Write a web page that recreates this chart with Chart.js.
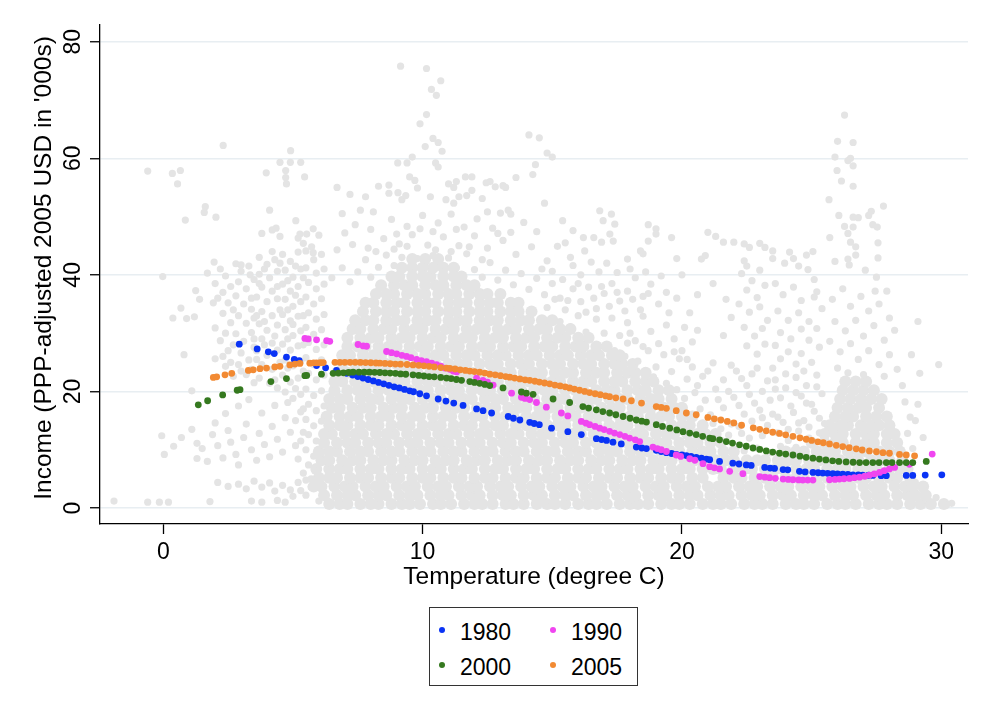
<!DOCTYPE html>
<html>
<head>
<meta charset="utf-8">
<title>Income vs temperature</title>
<script src="https://cdn.jsdelivr.net/npm/chart.js@4.4.1/dist/chart.umd.min.js"></script>
<style>
  html, body { margin: 0; padding: 0; background: #fff; }
  #wrap { position: relative; width: 993px; height: 721px; font-family: "Liberation Sans", Arial, Helvetica, sans-serif; }
  #legend { position: absolute; left: 429px; top: 607px; width: 207px; height: 77px; border: 1.5px solid #333; background: #fff; }
  #legend .dot { position: absolute; width: 6px; height: 6px; border-radius: 50%; }
  #legend .lab { position: absolute; font-size: 23px; line-height: 23px; color: #000; }
</style>
</head>
<body>
<div id="wrap">
  <canvas id="chart" width="993" height="721"></canvas>
  <div id="legend"></div>
</div>
<script>
// axis ticks
const xTicks = [0, 10, 20, 30];
const yTicks = [0, 20, 40, 60, 80];

// grey background cloud: dense part stored as rows (y level + x positions)
const cloudRowY = [0.7, 2.2, 3.7, 5.2, 6.7, 8.2, 9.7, 11.2, 12.7, 14.2, 15.7, 17.2, 18.7, 20.2, 21.7,
  23.2, 24.7, 26.2, 27.7, 29.2, 30.7, 32.2, 33.7, 35.2, 36.7, 38.2, 39.7, 41.2, 42.7];
const cloudRowX = [
  [6.4,6.8,7.1,7.6,8.0,8.3,8.8,9.2,9.5,9.9,10.4,10.7,11.1,11.6,12.0,12.3,12.7,13.2,13.5,13.9,14.4,14.8,15.1,15.5,16.0,16.4,16.7,17.1,17.6,18.0,18.3,18.7,19.2,19.6,19.9,20.3,20.8,21.2,21.5,21.9,22.4,22.8,23.1,23.5,24.0,24.4,24.7,25.1,25.6,26.0,26.3,26.7,27.2,27.6,27.9,28.3,28.8,29.2,29.6,30.1],
  [6.2,6.7,7.1,7.4,7.9,8.3,8.6,9.1,9.5,9.8,10.3,10.7,11.0,11.5,11.9,12.2,12.7,13.1,13.4,13.9,14.3,14.6,15.1,15.5,15.8,16.3,16.7,17.0,17.5,17.9,18.2,18.7,19.1,19.4,19.9,20.3,20.6,21.1,21.5,21.8,22.3,22.7,23.0,23.5,23.9,24.2,24.7,25.1,25.4,25.9,26.3,26.6,27.1,27.5,27.8,28.3,28.7,29.0,29.4],
  [5.8,6.1,6.6,7.0,7.3,7.8,8.2,8.5,9.0,9.4,9.7,10.2,10.6,10.9,11.4,11.8,12.1,12.6,13.0,13.3,13.8,14.2,14.5,15.0,15.4,15.7,16.2,16.6,16.9,17.4,17.8,18.1,18.6,19.0,19.3,19.8,20.2,20.5,21.0,21.4,21.7,22.2,22.6,22.9,23.4,23.8,24.1,24.6,25.0,25.3,25.8,26.2,26.5,27.0,27.4,27.7,28.2,28.6,28.9,29.3],
  [6.0,6.4,6.7,7.2,7.6,7.9,8.4,8.8,9.1,9.6,10.0,10.3,10.8,11.2,11.5,12.0,12.4,12.7,13.2,13.6,13.9,14.4,14.8,15.1,15.6,16.0,16.3,16.8,17.2,17.5,18.0,18.4,18.7,19.2,19.6,19.9,20.4,20.8,21.6,22.0,22.3,22.8,23.2,23.5,24.0,24.4,24.7,25.2,25.6,25.9,26.4,26.8,27.1,27.6,28.0,28.3,28.8],
  [5.9,6.4,6.8,7.1,7.6,8.0,8.3,8.8,9.2,9.5,10.0,10.4,10.7,11.2,11.6,11.9,12.4,12.8,13.1,13.6,14.0,14.3,14.8,15.2,15.5,16.0,16.4,16.7,17.2,17.6,17.9,18.4,18.8,19.1,19.6,20.0,20.3,20.8,21.2,21.5,22.0,22.4,22.7,23.2,23.6,23.9,24.4,24.8,25.1,25.6,26.0,26.3,26.8,27.2,27.5,28.0,28.4,28.7],
  [6.1,6.4,6.9,7.3,7.6,8.1,8.5,8.8,9.3,9.7,10.0,10.5,10.9,11.2,11.7,12.1,12.4,12.9,13.3,13.6,14.1,14.5,14.8,15.3,15.7,16.0,16.5,16.9,17.2,17.7,18.1,18.4,18.9,19.3,19.6,20.1,20.5,20.8,21.3,21.7,22.0,22.5,22.9,23.2,23.7,24.1,24.4,24.9,25.3,25.6,26.1,26.5,26.8,27.3,27.7,28.0,28.5],
  [6.0,6.4,6.7,7.2,7.6,7.9,8.4,8.8,9.1,9.6,10.0,10.3,10.8,11.2,11.5,12.0,12.4,12.7,13.2,13.6,13.9,14.4,14.8,15.1,15.6,16.0,16.3,16.8,17.2,17.5,18.0,18.4,18.7,19.2,19.6,19.9,20.4,20.8,21.1,21.6,22.0,24.0,24.4,24.7,25.2,25.6,25.9,26.4,26.8,27.1,27.6,28.0,28.4],
  [6.2,6.7,7.1,7.4,7.9,8.3,8.6,9.1,9.5,9.8,10.3,10.7,11.0,11.5,11.9,12.2,12.7,13.1,13.4,13.9,14.3,14.6,15.1,15.5,15.8,16.3,16.7,17.0,17.5,17.9,18.2,18.7,19.1,19.4,19.9,20.3,20.6,21.1,21.5,25.0,25.5,25.9,26.2,26.7,27.1,27.4,27.9,28.3],
  [6.2,6.5,7.0,7.4,7.7,8.2,8.6,8.9,9.4,9.8,10.1,10.6,11.0,11.3,11.8,12.2,12.5,13.0,13.4,13.7,14.2,14.6,14.9,15.4,15.8,16.1,16.6,17.0,17.3,17.8,18.2,18.5,19.0,19.4,19.7,20.2,20.6,20.9,21.3,25.5,25.9,26.2,26.7,27.1,27.4,27.9,28.2],
  [6.4,6.8,7.1,7.6,8.0,8.3,8.8,9.2,9.5,10.0,10.4,10.7,11.2,11.6,11.9,12.4,12.8,13.1,13.6,14.0,14.3,14.8,15.2,15.5,16.0,16.4,16.7,17.2,17.6,17.9,18.4,18.8,19.1,19.6,20.0,20.3,20.8,25.7,26.1,26.4,26.9,27.3,27.6,28.0],
  [6.3,6.8,7.2,7.5,8.0,8.4,8.7,9.2,9.6,9.9,10.4,10.8,11.1,11.6,12.0,12.3,12.8,13.2,13.5,14.0,14.4,14.7,15.2,15.6,15.9,16.4,16.8,17.1,17.6,18.0,18.3,18.8,19.2,19.5,20.0,20.4,25.9,26.3,26.6,27.1,27.5,27.9],
  [6.5,6.8,7.3,7.7,8.0,8.5,8.9,9.2,9.7,10.1,10.4,10.9,11.3,11.6,12.1,12.5,12.8,13.3,13.7,14.0,14.5,14.9,15.2,15.7,16.1,16.4,16.9,17.3,17.6,18.1,18.5,18.8,19.3,19.7,20.0,26.0,26.4,26.8,27.1,27.6],
  [6.4,6.8,7.1,7.6,8.0,8.3,8.8,9.2,9.5,10.0,10.4,10.7,11.2,11.6,11.9,12.4,12.8,13.1,13.6,14.0,14.3,14.8,15.2,15.5,16.0,16.4,16.7,17.2,17.6,17.9,18.4,18.8,19.1,19.6,26.1,26.5,26.9,27.3,27.7],
  [6.6,7.1,7.5,7.8,8.3,8.7,9.0,9.5,9.9,10.2,10.7,11.1,11.4,11.9,12.3,12.6,13.1,13.5,13.8,14.3,14.7,15.0,15.5,15.9,16.2,16.7,17.1,17.4,17.9,18.3,18.6,19.1,19.5,26.2,26.6,27.0,27.4],
  [6.6,6.9,7.4,7.8,8.1,8.6,9.0,9.3,9.8,10.2,10.5,11.0,11.4,11.7,12.2,12.6,12.9,13.4,13.8,14.1,14.6,15.0,15.3,15.8,16.2,16.5,17.0,17.4,17.7,18.2,18.6,18.9,26.3,26.7,27.1],
  [6.7,7.1,7.4,7.9,8.3,8.6,9.1,9.5,9.8,10.3,10.7,11.0,11.5,11.9,12.2,12.7,13.1,13.4,13.9,14.3,14.6,15.1,15.5,15.8,16.3,16.7,17.0,17.5,17.9,18.2,18.6],
  [6.9,7.4,7.8,8.1,8.6,9.0,9.3,9.8,10.2,10.5,11.0,11.4,11.7,12.2,12.6,12.9,13.4,13.8,14.1,14.6,15.0,15.3,15.8,16.2,16.5,17.0,17.4,17.7,18.1],
  [6.9,7.2,7.7,8.1,8.4,8.9,9.3,9.6,10.1,10.5,10.8,11.3,11.7,12.0,12.5,12.9,13.2,13.7,14.1,14.4,14.9,15.3,15.6,16.1,16.5,16.8,17.3,17.6],
  [7.1,7.5,7.8,8.3,8.7,9.0,9.5,9.9,10.2,10.7,11.1,11.4,11.9,12.3,12.6,13.1,13.5,13.8,14.3,14.7,15.0,15.5,15.9,16.2,16.7,17.1],
  [7.1,7.6,8.0,8.3,8.8,9.2,9.5,10.0,10.4,10.7,11.2,11.6,11.9,12.4,12.8,13.1,13.6,14.0,14.3,14.8,15.2,15.5,16.0,16.4],
  [7.3,7.6,8.1,8.5,8.8,9.3,9.7,10.0,10.5,10.9,11.2,11.7,12.1,12.4,12.9,13.3,13.6,14.1,14.5,14.8,15.3,15.7],
  [7.4,7.8,8.1,8.6,9.0,9.3,9.8,10.2,10.5,11.0,11.4,11.7,12.2,12.6,12.9,13.4,13.8,14.1,14.6,15.0],
  [7.7,8.2,8.6,8.9,9.4,9.8,10.1,10.6,11.0,11.3,11.8,12.2,12.5,13.0,13.4,13.7,14.2],
  [7.8,8.1,8.6,9.0,9.3,9.8,10.2,10.5,11.0,11.4,11.7,12.2,12.6,12.9,13.4,13.7],
  [8.2,8.6,8.9,9.4,9.8,10.1,10.6,11.0,11.3,11.8,12.2,12.5,13.0],
  [8.4,8.9,9.3,9.6,10.1,10.5,10.8,11.3,11.7,12.0],
  [8.8,9.1,9.6,10.0,10.3,10.8,11.2,11.5],
  [9.2,9.6,10.0,10.4,10.8,11.2],
  [9.6,10.1,10.6]
];

// grey background cloud: scattered points around the dense part [temperature, income]
const cloudScatter = [
  [-1.9,1.2],[-0.6,1.0],[-0.15,1.0],[0.2,1.0],[1.8,1.1],[-0.6,57.8],[0.35,57.4],[0.66,57.9],[0.55,55.6],[-0.02,39.7],
  [0.37,32.6],[0.68,34.3],[0.9,32.5],[1.2,32.8],[1.25,37.3],[1.4,35.8],[1.7,40.3],[1.93,35.2],[1.96,42.2],[0.8,26.3],
  [1.1,20.1],[-0.06,12.4],[0.04,9.2],[0.7,12.1],[1.3,11.1],[1.3,8.5],[1.62,51.7],[1.58,50.7],[2.03,49.9],[0.85,49.4],
  [2.31,62.2],[4.91,61.3],[4.5,59.3],[4.9,59.3],[5.3,59.3],[3.97,57.5],[4.72,57.9],[4.72,56.7],[4.75,55.6],[5.45,56.8],
  [4.1,51.1],[5.11,49.3],[3.8,47.1],[4.2,47.7],[4.35,48.0],[4.5,46.6],[5.27,47.0],[5.53,47.0],[5.78,47.9],[5.2,46.3],
  [5.4,45.4],[5.72,44.8],[5.78,43.8],[6.0,46.8],[3.0,41.7],[3.35,40.0],
  [2.0,38.5],[2.2,41.0],[2.4,39.8],[2.1,36.0],[2.5,35.2],[2.3,33.4],[2.0,30.9],[2.6,31.8],[2.2,28.7],[2.5,27.0],[2.0,25.6],[2.4,24.3],[2.7,22.6],
  [2.8,41.9],[3.0,40.6],[3.3,41.5],[2.9,38.8],[3.2,37.6],[3.5,39.2],[2.8,36.4],[3.1,35.0],[3.4,34.1],[2.9,33.0],[3.2,31.7],[3.5,32.6],
  [2.8,29.9],[3.1,28.6],[3.4,30.1],[3.0,26.6],[3.3,25.4],[3.5,27.6],[2.9,24.6],[3.2,22.9],[3.5,21.5],
  [3.7,43.0],[4.0,41.8],[4.3,42.6],[3.7,40.1],[4.1,39.5],[4.4,40.6],[3.8,37.9],[4.2,37.2],[3.6,36.2],[4.0,35.4],[4.4,35.9],[3.8,33.7],
  [4.2,33.0],[3.7,31.6],[4.0,30.5],[4.4,31.4],[3.8,29.0],[4.2,28.3],[3.6,27.0],[4.0,26.2],[4.4,27.1],[3.8,24.6],[4.2,23.8],[3.7,22.3],[4.1,21.4],[4.4,20.6],
  [4.6,43.5],[4.9,42.3],[5.2,43.9],[4.7,40.8],[5.0,39.6],[5.3,41.0],[4.6,38.4],[4.9,37.2],[5.2,38.0],[4.7,35.8],[5.0,34.6],[5.3,35.4],
  [4.6,33.2],[4.9,32.1],[5.2,32.9],[4.7,30.6],[5.0,29.6],[5.3,30.4],[4.6,28.1],[4.9,27.1],[5.2,27.8],[4.7,25.4],[5.0,24.4],[5.3,25.2],
  [4.6,22.8],[4.9,21.6],[5.2,22.3],[4.7,19.9],[5.0,18.8],[5.3,19.5],
  [2.3,37.0],[2.6,38.0],[2.7,34.0],[2.4,30.0],[2.7,28.0],[2.3,26.0],[2.6,25.0],[3.0,23.5],[3.4,23.8],[3.6,25.5],[3.9,28.0],[3.5,29.0],
  [3.6,33.0],[3.9,32.0],[3.4,36.0],[3.7,38.5],[3.9,41.0],[4.2,44.0],[4.5,42.0],[4.4,38.0],[4.5,34.0],[4.3,29.5],[4.5,25.0],[4.3,22.0],
  [4.8,24.0],[4.8,29.0],[5.0,31.5],[4.8,34.0],[5.1,36.5],[4.8,39.0],[5.1,41.5],[5.4,39.5],[5.4,33.0],[5.4,28.0],[5.4,23.5],[5.1,20.5],
  [5.4,17.0],[5.1,15.0],[5.4,13.0],[5.3,11.5],[5.4,6.0],[5.7,5.0],[5.3,3.0],
  [5.5,44.1],[5.8,42.6],[6.1,43.5],[5.5,41.2],[5.9,40.3],[6.2,41.0],[5.6,38.7],[5.9,37.6],[6.2,38.4],[5.5,36.2],[5.8,35.0],[6.1,35.9],
  [5.6,33.5],[5.9,32.4],[6.2,33.2],[5.5,31.0],[5.8,29.8],[6.1,30.6],[5.6,28.4],[5.9,27.2],[6.2,28.0],[5.5,25.8],[5.8,24.6],[6.1,25.4],
  [5.6,23.1],[5.9,22.0],[6.2,22.8],[5.5,20.4],[5.8,19.3],[6.1,20.1],[5.6,17.8],[5.9,16.7],[6.2,17.5],[5.5,15.2],[5.8,14.1],[6.1,14.9],
  [5.6,12.6],[5.9,11.5],[6.2,12.2],[5.5,10.0],[5.8,8.9],[6.1,9.6],[5.6,7.4],[5.9,6.3],[5.5,4.8],[5.7,3.6],[5.5,2.2],[6.0,1.2],
  [1.5,10.2],[1.7,8.0],[1.9,12.6],[2.1,10.7],[2.3,8.6],[2.5,13.3],[2.6,11.3],[2.8,9.2],[2.9,7.4],[3.1,12.1],[3.2,14.4],[3.4,10.0],
  [3.6,8.2],[3.7,12.8],[3.9,10.9],[4.1,8.8],[4.2,14.0],[4.4,11.8],[4.6,9.6],[4.7,15.5],[4.9,13.0],[5.1,10.7],[5.2,8.4],[5.3,16.5],
  [2.4,16.2],[2.9,17.5],[3.3,18.6],[3.8,16.3],[4.3,17.6],[4.8,18.1],[2.0,14.6],[1.1,13.5],[0.4,10.6],
  [2.1,4.4],[2.5,3.7],[2.9,4.1],[3.2,3.3],[3.5,4.6],[3.8,3.6],[4.1,4.3],[4.3,2.9],[4.6,3.9],[4.9,3.1],[5.2,4.4],[3.4,1.2],[3.8,1.0],
  [4.4,1.3],[4.7,1.0],[5.0,2.0],
  [6.5,39.5],[6.9,41.2],[7.2,38.8],[7.5,40.5],[7.8,42.6],[8.0,39.6],[8.3,41.3],[8.6,43.4],[8.9,41.6],[9.2,43.0],[9.5,41.2],[9.8,42.8],
  [10.1,41.4],[10.4,43.3],[10.7,41.7],[11.0,42.9],[11.3,41.2],[11.7,43.6],[12.0,40.9],[12.3,39.6],[12.6,42.1],[12.9,39.1],[13.2,40.8],
  [13.5,38.3],[13.8,40.2],[14.1,37.5],[14.4,39.4],[14.7,36.6],[15.0,38.5],[15.3,36.0],[6.7,44.3],[7.3,45.2],[7.9,44.6],[8.5,46.2],
  [9.1,45.3],[9.6,46.9],[10.2,45.1],[10.8,46.5],[11.4,45.0],[12.0,46.7],[12.5,44.6],[13.1,45.9],[13.6,43.5],[14.2,44.8],[14.8,42.4],[15.2,44.9],
  [6.7,55.0],[7.2,53.8],[7.8,53.4],[7.6,51.1],[8.1,50.8],[6.9,50.5],[8.3,55.2],[8.7,55.4],[8.7,54.0],[9.05,54.1],[9.2,52.9],[9.35,53.6],
  [9.5,56.8],[9.7,56.2],[9.8,54.9],[10.3,53.4],[10.9,52.9],[11.2,52.3],[11.4,53.4],[11.7,53.6],[11.9,54.5],[12.3,53.1],[12.8,55.1],
  [11.0,55.6],[11.2,55.0],[11.3,56.0],[11.65,56.8],[11.9,56.8],[12.45,55.8],[12.6,56.0],[13.1,55.3],[13.2,55.0],[13.3,51.1],[13.4,50.4],
  [13.6,56.7],[14.7,52.3],[7.4,48.6],[8.0,47.8],[8.8,49.5],[9.4,48.3],[10.0,50.2],[10.6,48.9],[11.1,50.4],[11.6,48.2],[12.1,49.6],
  [12.7,48.0],[13.0,50.6],[13.9,49.0],[14.4,47.4],[7.0,47.2],[9.9,47.9],[12.9,47.1],
  [8.2,44.0],[8.9,44.4],[9.4,44.9],[10.5,44.3],[11.1,44.0],[11.8,44.8],[12.3,42.6],[9.0,47.0],[10.4,47.4],[11.3,47.8],[13.4,47.3],[12.5,50.8],
  [9.15,75.8],[10.15,75.4],[10.7,73.3],[10.34,71.8],[10.53,70.8],[10.15,67.5],[9.9,65.9],[10.4,63.4],[10.6,62.7],[10.75,61.2],
  [10.1,62.0],[9.6,60.2],[9.04,59.2],[9.4,59.2],[10.5,59.2],[10.6,58.5],[14.1,64.0],[14.5,63.5],[14.8,60.9],[15.0,60.2],[14.35,58.9],[14.25,57.2],
  [16.83,51.0],[16.96,49.3],[17.28,50.4],[17.41,48.7],[17.22,47.0],[17.35,45.8],[15.4,49.3],[15.8,47.6],[16.2,46.4],[16.25,44.1],
  [16.6,46.4],[16.9,45.6],[15.5,45.5],[15.7,43.0],[18.7,48.6],[19.0,47.9],[19.0,47.0],[18.7,45.8],[18.5,43.6],[19.6,46.4],[17.9,42.7],[18.4,44.1],
  [14.6,41.0],[15.0,40.6],[15.4,39.2],[15.8,41.6],[16.1,40.0],[16.5,42.2],[16.8,40.5],[17.1,42.0],[17.5,40.4],[14.8,34.4],[15.1,35.8],
  [15.5,34.0],[15.8,37.6],[16.1,35.4],[16.4,37.9],[16.7,34.2],[17.0,36.8],[17.3,38.5],[17.6,35.5],[17.9,37.2],[18.2,39.5],[18.5,36.3],
  [18.8,38.4],[19.1,35.0],[19.4,37.0],[15.3,32.0],[15.7,31.1],[16.0,33.0],[16.3,30.2],[16.7,32.4],[17.0,30.0],[17.3,32.6],[17.6,29.6],
  [17.9,31.8],[18.2,28.7],[18.5,32.9],[18.8,30.3],[19.1,28.2],[19.4,31.4],[19.7,29.0],[17.4,27.0],[17.8,26.0],[18.3,25.2],[18.7,27.0],
  [19.0,24.2],[19.3,26.3],[19.6,23.4],[19.9,25.6],[18.9,22.5],[19.4,21.4],[19.8,20.3],[20.2,22.1],
  [15.6,35.6],[16.0,38.5],[16.3,33.6],[16.6,36.0],[16.9,38.0],[17.2,34.6],[17.5,37.0],[17.8,33.8],[18.1,35.8],[18.4,34.0],[18.7,36.8],
  [18.0,41.0],[18.6,40.5],[19.2,39.8],[19.5,33.5],[19.8,36.0],[20.1,31.0],[20.4,28.5],[20.0,27.0],[20.6,30.5],[19.7,26.8],[18.0,30.0],
  [18.5,27.7],[17.9,28.3],
  [21.0,47.3],[21.3,46.6],[21.6,45.6],[22.0,45.6],[22.4,45.3],[22.6,44.7],[23.0,45.4],[23.2,44.7],[23.5,44.1],[20.75,42.7],[20.9,43.3],
  [22.4,42.4],[22.5,41.5],[22.3,40.2],[22.7,39.0],[23.0,40.8],[22.5,37.4],[22.9,36.1],[23.2,38.2],[22.2,35.0],[22.6,33.6],[23.0,34.5],
  [23.3,32.2],[22.4,31.0],[22.8,29.5],[23.1,30.8],[22.5,27.8],[22.9,26.4],[23.2,28.1],[21.7,35.8],[21.9,32.7],[21.6,29.6],[21.2,38.5],
  [20.6,36.6],[20.3,33.5],[20.0,40.0],[19.8,42.8],
  [20.1,18.8],[20.5,19.8],[20.9,18.5],[21.3,20.4],[21.6,17.2],[22.0,19.0],[22.4,16.1],[22.8,18.0],[23.1,15.5],[20.4,24.2],[20.8,22.6],
  [21.2,24.9],[21.6,22.0],[22.1,23.5],[22.5,21.0],[22.9,24.0],[23.3,21.8],[21.9,14.4],[22.3,12.8],[22.7,14.9],[23.1,12.4],[21.5,13.6],
  [20.9,12.2],[22.4,9.8],[22.9,10.3],[23.4,9.5],[23.8,10.6],
  [20.3,15.5],[20.7,17.0],[21.1,16.0],[21.4,18.6],[21.8,20.0],[22.2,17.6],[22.6,19.5],[23.0,16.8],[23.4,18.5],[23.6,20.4],[24.0,23.0],
  [24.4,19.8],[24.8,18.0],[25.2,20.8],[23.3,14.2],[23.7,15.6],[24.1,13.5],[24.5,14.6],[24.9,13.9],[25.3,15.4],[22.2,14.0],[22.6,12.0],
  [21.2,14.5],[21.8,12.5],[20.6,21.0],[21.0,23.5],[21.9,24.5],[22.3,22.2],[22.7,23.0],[23.1,20.0],[23.5,24.0],[20.2,25.5],[25.0,25.0],[24.7,23.5],
  [24.8,43.4],[25.05,44.0],[24.15,43.9],[24.3,42.8],[23.5,42.8],[23.96,42.0],[24.5,41.5],[24.86,40.9],[25.1,39.2],[25.2,37.1],[25.1,36.2],
  [25.4,34.2],[25.2,30.8],[24.9,28.8],[24.6,26.5],[24.1,26.8],[23.8,25.6],[24.4,24.7],[23.6,38.5],[23.9,36.6],[24.3,37.9],[24.6,35.6],
  [23.7,33.8],[24.1,32.2],[24.5,33.5],[24.9,32.0],[23.8,30.1],[24.2,29.0],[24.6,30.7],[25.3,27.6],[23.6,27.9],
  [23.6,22.0],[24.0,20.6],[24.4,22.4],[24.8,21.0],[25.2,22.8],[23.8,18.9],[24.2,17.5],[24.6,19.2],[25.0,17.8],[25.4,19.6],[23.5,16.1],
  [23.9,14.7],[24.3,16.4],[24.7,15.0],[25.1,16.6],[25.5,14.5],[23.7,12.9],[24.1,11.6],[24.5,13.2],[24.9,12.0],[25.3,12.9],[24.4,10.4],
  [26.27,67.4],[26.0,62.9],[26.6,62.7],[25.9,60.2],[26.5,60.0],[26.4,59.6],[26.6,58.7],[25.98,57.9],[26.15,56.1],[26.6,55.2],[25.67,52.9],
  [27.77,51.8],[27.3,50.9],[27.2,50.2],[26.05,50.2],[26.6,49.9],[26.8,49.8],[26.27,48.3],[26.6,48.2],[26.4,47.1],[27.36,48.6],[27.53,48.2],
  [25.7,46.4],[26.5,45.6],[26.7,44.8],[27.56,45.5],[25.9,42.3],[26.4,42.7],[26.45,41.7],[26.7,43.4],[27.07,40.8],[27.56,42.9],[27.5,39.6],
  [27.9,37.2],[27.45,37.2],
  [25.8,35.8],[26.2,37.6],[26.5,34.6],[26.9,36.3],[27.2,33.8],[27.6,35.0],[28.0,32.6],[25.9,32.0],[26.3,30.4],[26.7,32.2],[27.0,29.5],
  [27.4,31.3],[27.8,28.8],[28.2,30.5],[25.7,28.6],[26.1,26.8],[26.5,28.2],[26.8,25.5],[27.2,27.0],[27.6,24.6],[28.0,26.3],[28.3,23.8],
  [26.0,24.0],[26.4,23.2],[27.0,22.9],[27.8,22.6],[28.5,21.0],[28.6,18.2],[28.8,15.6],[28.7,12.8],[28.9,10.2],
  [29.1,32.0],[29.9,24.6],[29.17,23.1],[28.85,26.3],[29.1,17.8],[29.0,15.0],[29.3,12.1],[29.0,4.4],[29.3,3.1],[29.8,1.8],[30.4,0.8],[30.2,0.5]
];

// fitted values per year [temperature, income]
const fit1980 = [
  [2.93,28.1],[3.62,27.3],[4.05,26.8],[4.28,26.5],[4.75,25.9],[5.05,25.5],[5.24,25.3],[5.91,24.45],[6.26,24.05],[6.68,23.6],
  [7.07,23.1],[7.3,22.8],[7.5,22.55],[7.7,22.3],[7.9,22.05],[8.1,21.8],[8.3,21.55],[8.5,21.3],[8.7,21.05],[8.9,20.8],[9.1,20.6],
  [9.3,20.35],[9.5,20.1],[9.65,19.95],[9.89,19.6],[10.15,19.25],[10.6,18.7],[10.9,18.35],[11.2,18.0],[11.56,17.6],[12.08,17.0],
  [12.33,16.7],[12.66,16.3],[13.3,15.7],[13.5,15.4],[13.75,15.1],[14.13,14.7],[14.3,14.5],[14.5,14.3],[14.97,13.7],[15.6,13.1],
  [16.12,12.6],[16.7,11.9],[16.9,11.75],[17.09,11.6],[17.34,11.3],[17.66,11.0],[18.24,10.45],[18.45,10.3],[18.63,10.2],[19.01,9.9],
  [19.2,9.7],[19.4,9.5],[19.6,9.35],[19.78,9.2],[20.0,9.1],[20.17,9.0],[20.35,8.85],[20.55,8.7],[20.75,8.55],[20.94,8.4],[21.07,8.3],
  [21.45,8.0],[21.96,7.7],[22.2,7.55],[22.48,7.4],[22.67,7.3],[23.19,6.96],[23.4,6.85],[23.57,6.8],[23.9,6.6],[24.08,6.55],[24.53,6.3],
  [24.75,6.2],[25.05,6.1],[25.25,6.05],[25.43,6.0],[25.62,5.95],[25.82,5.9],[26.0,5.85],[26.2,5.8],[26.4,5.75],[26.59,5.7],[26.8,5.68],
  [26.97,5.65],[27.2,5.62],[27.36,5.6],[27.68,5.55],[27.88,5.55],[28.65,5.6],[28.9,5.6],[29.38,5.65],[30.02,5.7]
];
const fit1990 = [
  [5.46,29.1],[5.59,29.0],[5.91,28.85],[6.3,28.7],[6.42,28.6],[7.51,28.05],[7.71,27.8],[7.84,27.75],[8.61,26.85],[8.8,26.65],[9.0,26.45],
  [9.2,26.2],[9.38,26.0],[9.55,25.8],[9.77,25.5],[9.95,25.3],[10.15,25.1],[10.35,24.85],[10.54,24.6],[10.7,24.35],[10.86,24.0],[11.05,23.8],
  [11.18,23.5],[11.31,23.35],[12.08,22.3],[12.33,21.9],[12.5,21.6],[12.72,21.1],[13.43,19.7],[13.81,19.0],[13.95,18.8],[14.13,18.6],
  [14.39,18.1],[14.77,17.3],[15.35,16.3],[15.6,15.8],[16.12,14.85],[16.3,14.55],[16.44,14.3],[16.65,14.0],[16.83,13.7],[17.0,13.45],
  [17.21,13.15],[17.4,12.85],[17.6,12.6],[17.8,12.3],[17.98,12.0],[18.2,11.7],[18.37,11.4],[18.88,10.45],[19.05,10.2],[19.2,10.0],
  [19.4,9.7],[19.78,9.1],[19.95,8.85],[20.3,8.45],[20.5,8.2],[20.81,7.6],[21.07,7.1],[21.25,6.9],[21.45,6.7],[21.84,6.3],[22.35,5.9],
  [23.0,5.4],[23.2,5.3],[23.38,5.2],[23.6,5.1],[23.9,4.97],[24.1,4.9],[24.28,4.85],[24.5,4.82],[24.66,4.8],[24.85,4.8],[25.05,4.8],
  [25.69,4.85],[25.9,4.9],[26.07,4.97],[26.25,5.02],[26.46,5.07],[26.65,5.2],[26.85,5.3],[27.05,5.45],[27.23,5.65],[27.42,5.85],
  [27.62,6.1],[27.8,6.4],[28.0,6.7],[28.2,6.96],[28.77,7.5],[29.65,9.25]
];
const fit2000 = [
  [1.35,17.7],[1.71,18.4],[2.29,19.4],[2.85,20.2],[2.96,20.3],[4.15,21.7],[4.75,22.2],[5.46,22.7],[5.53,22.75],[6.1,22.97],[6.55,23.1],
  [6.75,23.15],[6.95,23.2],[7.15,23.25],[7.32,23.3],[7.55,23.3],[7.75,23.3],[7.95,23.3],[8.15,23.28],[8.35,23.25],[8.55,23.2],[8.75,23.15],
  [8.95,23.1],[9.15,23.0],[9.35,22.95],[9.63,22.85],[9.85,22.75],[10.05,22.65],[10.25,22.55],[10.45,22.5],[10.7,22.4],[10.92,22.3],
  [11.1,22.2],[11.3,22.05],[11.5,21.9],[11.82,21.7],[12.0,21.55],[12.2,21.4],[12.4,21.2],[12.59,21.0],[13.1,20.6],[13.81,19.9],[14.0,19.7],
  [14.26,19.5],[15.03,18.7],[15.67,18.1],[16.18,17.4],[16.4,17.15],[16.7,16.85],[16.95,16.55],[17.21,16.3],[17.45,16.0],[17.73,15.7],
  [18.0,15.4],[18.24,15.1],[18.45,14.9],[18.63,14.75],[19.01,14.3],[19.25,14.0],[19.53,13.7],[19.8,13.4],[20.04,13.1],[20.3,12.85],
  [20.55,12.6],[20.8,12.3],[21.07,12.0],[21.19,11.9],[21.45,11.7],[21.71,11.4],[21.95,11.15],[22.22,10.85],[22.48,10.6],[22.74,10.3],
  [23.0,10.05],[23.25,9.8],[23.5,9.6],[23.76,9.4],[24.0,9.25],[24.28,9.1],[24.55,8.9],[24.79,8.7],[25.05,8.55],[25.3,8.4],[25.55,8.25],
  [25.81,8.1],[26.05,8.0],[26.33,7.9],[26.6,7.85],[26.85,7.8],[27.1,7.8],[27.36,7.8],[27.6,7.8],[27.88,7.8],[28.1,7.8],[28.39,7.8],
  [28.65,7.8],[28.9,7.8],[29.42,8.0]
];
const fit2005 = [
  [1.93,22.4],[2.06,22.5],[2.38,22.85],[2.64,23.1],[3.28,23.6],[3.47,23.7],[3.73,23.9],[3.98,24.0],[4.3,24.2],[4.5,24.3],[4.88,24.55],
  [5.08,24.7],[5.27,24.8],[5.65,24.85],[5.8,24.9],[5.91,24.9],[6.05,24.92],[6.17,24.95],[6.62,25.0],[6.81,25.0],[7.0,25.0],[7.2,25.0],
  [7.4,25.0],[7.6,24.98],[7.8,24.95],[8.0,24.92],[8.2,24.88],[8.35,24.85],[8.55,24.8],[8.75,24.75],[8.95,24.7],[9.15,24.68],[9.4,24.62],
  [9.63,24.55],[9.85,24.48],[10.05,24.4],[10.25,24.3],[10.45,24.2],[10.7,24.1],[10.92,24.0],[11.05,23.95],[11.25,23.85],[11.45,23.7],
  [11.65,23.6],[11.82,23.5],[12.0,23.4],[12.2,23.3],[12.4,23.15],[12.59,22.97],[12.8,22.85],[13.0,22.7],[13.2,22.55],[13.36,22.45],
  [13.55,22.3],[13.75,22.15],[13.95,22.0],[14.13,21.9],[14.33,21.75],[14.5,21.6],[14.7,21.45],[14.9,21.3],[15.1,21.1],[15.3,20.95],
  [15.5,20.8],[15.67,20.6],[15.85,20.4],[16.05,20.2],[16.25,20.0],[16.44,19.8],[16.65,19.6],[16.85,19.45],[17.05,19.25],[17.21,19.1],
  [17.45,18.9],[17.73,18.7],[18.05,18.4],[18.44,18.0],[19.01,17.4],[19.2,17.25],[19.4,17.1],[19.78,16.7],[20.17,16.3],[20.55,16.0],
  [21.0,15.55],[21.25,15.3],[21.5,15.1],[21.75,14.85],[22.0,14.6],[22.3,14.2],[22.75,13.75],[23.0,13.5],[23.25,13.25],[23.5,13.0],
  [23.76,12.8],[24.0,12.55],[24.28,12.3],[24.55,12.05],[24.79,11.8],[25.0,11.6],[25.24,11.35],[25.45,11.2],[25.69,11.0],[25.95,10.75],
  [26.2,10.55],[26.45,10.35],[26.72,10.15],[26.95,9.95],[27.23,9.8],[27.5,9.65],[27.75,9.5],[28.0,9.4],[28.39,9.2],[28.65,9.1],[28.97,8.95]
];

const years = ['1980', '1990', '2000', '2005'];
const yearColors = ['#0a33f5', '#f046f0', '#35791f', '#f28a33'];
const cloudColor = '#e4e4e4';

const FONT = '"Liberation Sans", Arial, Helvetica, sans-serif';

const toPts = arr => arr.map(p => ({x: p[0], y: p[1]}));
const densePts = [];
cloudRowY.forEach((yv, i) => cloudRowX[i].forEach(xv => densePts.push({x: xv, y: yv})));

// rotated y tick labels and y title, placed through the y scale
const yAxisText = {
  id: 'yAxisText',
  afterDraw(chart) {
    const ys = chart.scales.y, ctx = chart.ctx, area = chart.chartArea;
    ctx.save();
    ctx.fillStyle = '#000';
    ctx.font = '23px ' + FONT;
    ctx.textAlign = 'center';
    ctx.textBaseline = 'alphabetic';
    ys.ticks.forEach(t => {
      ctx.save();
      ctx.translate(area.left - 20, ys.getPixelForValue(t.value));
      ctx.rotate(-Math.PI / 2);
      ctx.fillText(String(t.value), 0, 0);
      ctx.restore();
    });
    ctx.font = '24.5px ' + FONT;
    ctx.textBaseline = 'middle';
    ctx.translate(44, 268);
    ctx.rotate(-Math.PI / 2);
    ctx.fillText("Income (PPP-adjusted 2005 USD in '000s)", 0, 0);
    ctx.restore();
  }
};

const fits = [fit1980, fit1990, fit2000, fit2005];
const datasets = [
  {label: 'cloud', data: densePts, pointRadius: 6, backgroundColor: cloudColor, pointBorderWidth: 0, order: 9},
  {label: 'cloud2', data: toPts(cloudScatter), pointRadius: 3.6, backgroundColor: cloudColor, pointBorderWidth: 0, order: 8}
];
fits.forEach((f, i) => datasets.push({
  label: years[i], data: toPts(f), pointRadius: 3.4, backgroundColor: yearColors[i], pointBorderWidth: 0, order: 4 - i
}));

new Chart(document.getElementById('chart'), {
  type: 'scatter',
  data: {datasets: datasets},
  plugins: [yAxisText],
  options: {
    responsive: false,
    animation: false,
    devicePixelRatio: 1,
    layout: {padding: {left: 0, top: 25, right: 25, bottom: 117}},
    plugins: {legend: {display: false}, tooltip: {enabled: false}},
    scales: {
      x: {
        type: 'linear', min: -2.44, max: 31.03,
        afterBuildTicks: s => { s.ticks = xTicks.map(v => ({value: v})); },
        afterFit: s => { s.height = 80; },
        grid: {drawOnChartArea: false, drawTicks: true, tickLength: 10, tickColor: '#000', tickWidth: 1.3},
        border: {display: true, color: '#000', width: 1.3},
        ticks: {color: '#000', font: {size: 23, family: FONT}, padding: 5, maxRotation: 0},
        title: {display: true, text: 'Temperature (degree C)', color: '#000', font: {size: 24.5, family: FONT}, padding: {top: 0, bottom: 12}}
      },
      y: {
        type: 'linear', min: -2.74, max: 82.86,
        afterBuildTicks: s => { s.ticks = yTicks.map(v => ({value: v})); },
        afterFit: s => { s.width = 100; },
        grid: {color: '#e8eef2', lineWidth: 1.5, drawTicks: true, tickLength: 10, tickColor: '#000', tickWidth: 1.3},
        border: {display: true, color: '#000', width: 1.3},
        ticks: {display: false}
      }
    }
  }
});

// legend box (two columns)
const legend = document.getElementById('legend');
const legendPos = [[12, 22, 30, 13], [123, 22, 141, 13], [12, 57, 30, 48], [123, 57, 141, 48]];
years.forEach((yr, i) => {
  const p = legendPos[i];
  const dot = document.createElement('span');
  dot.className = 'dot';
  dot.style.left = (p[0] - 3) + 'px';
  dot.style.top = (p[1] - 3) + 'px';
  dot.style.background = yearColors[i];
  legend.appendChild(dot);
  const lab = document.createElement('span');
  lab.className = 'lab';
  lab.style.left = p[2] + 'px';
  lab.style.top = p[3] + 'px';
  lab.textContent = yr;
  legend.appendChild(lab);
});
</script>
</body>
</html>
